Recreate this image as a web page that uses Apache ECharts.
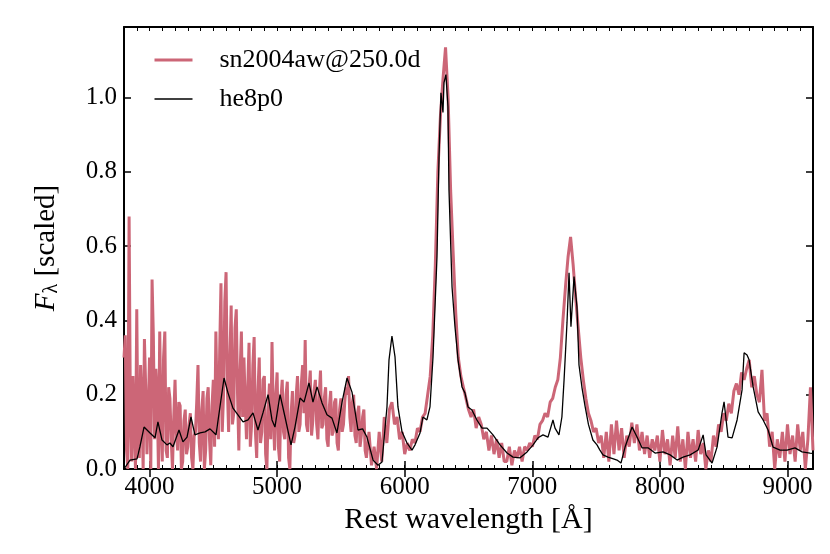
<!DOCTYPE html>
<html>
<head>
<meta charset="utf-8">
<script src="https://cdn.jsdelivr.net/npm/echarts@6/dist/echarts.min.js"></script>
<style>
  html, body { margin: 0; padding: 0; background: #fff; }
  #chart { width: 830px; height: 554px; }
</style>
</head>
<body>
<div id="chart"></div>
<script>
// observed spectrum sn2004aw, blue part sampled every 10 Å (3800-5700)
const blueStart = 3800
const blueStep = 10
const blueFlux = [
  0.30, 0.36, 0.05, 0.00, 0.68, 0.15, 0.02, 0.25, 0.12, 0.00,
  0.43, 0.06, 0.03, 0.28, 0.18, 0.00, 0.35, 0.22, 0.04, 0.15,
  0.30, 0.00, 0.51, 0.36, 0.08, 0.27, 0.20, 0.00, 0.37, 0.12,
  0.02, 0.30, 0.37, 0.05, 0.03, 0.22, 0.19, 0.08, 0.00, 0.14,
  0.24, 0.10, 0.05, 0.18, 0.17, 0.00, 0.02, 0.13, 0.16, 0.04,
  0.06, 0.12, 0.15, 0.03, 0.00, 0.09, 0.10, 0.18, 0.28, 0.07,
  0.02, 0.16, 0.21, 0.00, 0.05, 0.19, 0.22, 0.08, 0.01, 0.17,
  0.24, 0.06, 0.37, 0.18, 0.08, 0.32, 0.50, 0.10, 0.20, 0.45,
  0.53, 0.22, 0.10, 0.30, 0.44, 0.12, 0.15, 0.38, 0.43, 0.20,
  0.05, 0.26, 0.37, 0.14, 0.30, 0.18, 0.08, 0.22, 0.34, 0.06,
  0.12, 0.28, 0.355, 0.10, 0.03, 0.21, 0.30, 0.07, 0.10, 0.24,
  0.25, 0.04, 0.00, 0.16, 0.23, 0.08, 0.342, 0.15, 0.05, 0.20,
  0.26, 0.06, 0.02, 0.19, 0.24, 0.10, 0.08, 0.20, 0.235, 0.03,
  0.00, 0.15, 0.21, 0.07, 0.09, 0.20, 0.25, 0.10, 0.12, 0.23,
  0.28, 0.15, 0.347, 0.12, 0.10, 0.22, 0.265, 0.09, 0.13, 0.21,
  0.24, 0.12, 0.08, 0.20, 0.265, 0.11, 0.12, 0.19, 0.22, 0.08,
  0.06, 0.17, 0.21, 0.09, 0.10, 0.18, 0.19, 0.07, 0.05, 0.16,
  0.19, 0.10, 0.12, 0.18, 0.22, 0.20, 0.25, 0.14, 0.10, 0.18,
  0.20, 0.09, 0.07, 0.15, 0.17, 0.06, 0.09, 0.14, 0.16, 0.05,
  0.03
]
// red part sampled every 20 Å (5720-9200)
const redStart = 5720
const redStep = 20
const redFlux = [
  0.10, 0.01, 0.06, 0.00,
  0.10, 0.02, 0.14, 0.07, 0.16, 0.18, 0.12, 0.14, 0.08, 0.10,
  0.04, 0.07, 0.05, 0.08, 0.07, 0.11, 0.10, 0.14, 0.15, 0.20,
  0.25, 0.36, 0.55, 0.80, 0.95, 1.05, 1.135, 1.00, 0.75, 0.58,
  0.42, 0.30, 0.25, 0.22, 0.19, 0.16, 0.14, 0.16, 0.11, 0.14,
  0.12, 0.08, 0.10, 0.05, 0.09, 0.04, 0.08, 0.03, 0.07, 0.02,
  0.02, 0.06, 0.01, 0.05, 0.03, 0.06, 0.02, 0.06, 0.05, 0.07,
  0.06, 0.09, 0.08, 0.12, 0.13, 0.15, 0.14, 0.18, 0.19, 0.22,
  0.24, 0.30, 0.40, 0.49, 0.57, 0.625, 0.55, 0.46, 0.38, 0.30,
  0.24, 0.19, 0.15, 0.13, 0.10, 0.11, 0.07, 0.09, 0.03, 0.10,
  0.02, 0.12, 0.04, 0.13, 0.05, 0.11, 0.03, 0.09, 0.06, 0.125,
  0.07, 0.12, 0.05, 0.10, 0.04, 0.09, 0.03, 0.08, 0.05, 0.09,
  0.02, 0.105, 0.04, 0.08, 0.01, 0.09, 0.03, 0.115, 0.02, 0.08,
  0.00, 0.10, 0.03, 0.08, 0.02, 0.105, 0.04, 0.07, 0.00, 0.05,
  0.02, 0.09, 0.06, 0.12, 0.10, 0.15, 0.13, 0.176, 0.15, 0.21,
  0.23, 0.20, 0.26, 0.24, 0.27, 0.294, 0.22, 0.25, 0.20, 0.18,
  0.267, 0.13, 0.15, 0.06, 0.10, 0.00, 0.08, 0.03, 0.10, 0.02,
  0.12, 0.04, 0.09, 0.02, 0.12, 0.05, 0.10, 0.00, 0.08, 0.22,
  0.05
]

// model spectrum he8p0
const heWave = [
  3800, 3808, 3847, 3902, 3925, 3957, 4004, 4043, 4066, 4098,
  4137, 4160, 4184, 4231, 4262, 4294, 4325, 4356, 4396, 4435,
  4474, 4521, 4552, 4584, 4615, 4654, 4693, 4733, 4772, 4811,
  4850, 4889, 4929, 4960, 4983, 5023, 5062, 5109, 5140, 5180,
  5211, 5250, 5281, 5313, 5352, 5391, 5430, 5469, 5509, 5548,
  5587, 5634, 5670, 5704, 5752, 5791, 5822, 5861, 5877, 5900,
  5924, 5947, 5979, 6018, 6057, 6081, 6120, 6143, 6174, 6198,
  6222, 6253, 6269, 6284, 6300, 6308, 6323, 6339, 6347, 6371,
  6394, 6418, 6449, 6472, 6496, 6527, 6566, 6606, 6645, 6692,
  6747, 6802, 6849, 6904, 6959, 7006, 7045, 7084, 7123, 7162,
  7178, 7209, 7232, 7249, 7272, 7288, 7303, 7327, 7350, 7366,
  7389, 7413, 7440, 7475, 7507, 7530, 7554, 7593, 7630, 7664,
  7695, 7727, 7782, 7821, 7860, 7907, 7962, 8025, 8080, 8135,
  8182, 8237, 8300, 8339, 8362, 8409, 8448, 8487, 8503, 8534,
  8566, 8605, 8644, 8660, 8683, 8699, 8731, 8770, 8809, 8848,
  8887, 8942, 8997, 9059, 9114, 9176, 9200
]
const heFlux = [
  0.0, 0.005, 0.024, 0.027, 0.06, 0.113, 0.097, 0.084, 0.127, 0.078,
  0.065, 0.07, 0.06, 0.105, 0.073, 0.086, 0.14, 0.092, 0.097, 0.10,
  0.108, 0.092, 0.167, 0.245, 0.205, 0.164, 0.146, 0.127, 0.132, 0.151,
  0.105, 0.151, 0.20, 0.132, 0.113, 0.20, 0.14, 0.065, 0.113, 0.191,
  0.18, 0.232, 0.18, 0.221, 0.178, 0.146, 0.137, 0.097, 0.18, 0.245,
  0.207, 0.105, 0.108, 0.086, 0.024, 0.01, 0.019, 0.167, 0.294, 0.358,
  0.302, 0.167, 0.10, 0.07, 0.051, 0.065, 0.097, 0.14, 0.132, 0.167,
  0.302, 0.571, 0.841, 1.013, 0.96, 1.04, 1.062, 0.976, 0.752, 0.49,
  0.383, 0.294, 0.221, 0.205, 0.167, 0.159, 0.132, 0.11, 0.11, 0.092,
  0.065, 0.043, 0.032, 0.03, 0.046, 0.065, 0.084, 0.092, 0.086, 0.132,
  0.11, 0.092, 0.14, 0.24, 0.394, 0.528, 0.383, 0.518, 0.437, 0.28,
  0.22, 0.17, 0.12, 0.078, 0.065, 0.051, 0.038, 0.032, 0.028, 0.024,
  0.016, 0.059, 0.113, 0.086, 0.057, 0.057, 0.043, 0.046, 0.038, 0.024,
  0.032, 0.038, 0.051, 0.092, 0.038, 0.016, 0.059, 0.151, 0.181, 0.086,
  0.084, 0.132, 0.213, 0.313, 0.307, 0.294, 0.221, 0.154, 0.132, 0.105,
  0.059, 0.051, 0.051, 0.057, 0.046, 0.043, 0.042
]

const xMajor = [4000, 5000, 6000, 7000, 8000, 9000]
const serif = 'Liberation Serif'
const redColor = '#cc6677'

const mychart = echarts.init(document.getElementById('chart'))

//x轴 (刻度朝内, 上下两侧)
const xBase = { type: 'value', min: 3800, max: 9200, splitLine: { show: false } }
const spine = { show: true, onZero: false, lineStyle: { color: '#000', width: 2 } }

const redData = blueFlux.map((v, i) => [blueStart + i * blueStep, v])
  .concat(redFlux.map((v, i) => [redStart + i * redStep, v]))

const option = {
  animation: false,
  grid: { left: 124, right: 17, top: 27, bottom: 85 },
  legend: {
    left: 148, top: 42, orient: 'vertical',
    itemWidth: 38, itemHeight: 14, itemGap: 13,
    itemStyle: { opacity: 0 },
    textStyle: { fontFamily: serif, fontSize: 26, color: '#000', padding: [0, 0, 0, 22] },
    data: [
      { name: 'sn2004aw@250.0d', lineStyle: { color: redColor, width: 3 } },
      { name: 'he8p0', lineStyle: { color: '#000', width: 1.3 } }
    ]
  },
  xAxis: [
    // minor ticks, bottom
    Object.assign({}, xBase, {
      position: 'bottom', interval: 100, axisLine: spine,
      axisTick: { inside: true, length: 4, lineStyle: { color: '#000', width: 1 } },
      axisLabel: { show: false }
    }),
    // major ticks + labels, bottom
    Object.assign({}, xBase, {
      position: 'bottom', interval: 200, axisLine: { show: false },
      axisTick: { inside: true, length: 8, customValues: xMajor, lineStyle: { color: '#000', width: 1.5 } },
      axisLabel: {
        customValues: xMajor, margin: 6, fontFamily: serif, fontSize: 25, color: '#000',
        formatter: v => String(v)
      },
      name: 'Rest wavelength [Å]', nameLocation: 'middle', nameGap: 36,
      nameTextStyle: { fontFamily: serif, fontSize: 30, color: '#000' }
    }),
    // top side
    Object.assign({}, xBase, {
      position: 'top', interval: 100, axisLine: spine,
      axisTick: { inside: true, length: 4, lineStyle: { color: '#000', width: 1 } },
      axisLabel: { show: false }
    }),
    Object.assign({}, xBase, {
      position: 'top', interval: 200, axisLine: { show: false },
      axisTick: { inside: true, length: 8, customValues: xMajor, lineStyle: { color: '#000', width: 1.5 } },
      axisLabel: { show: false }
    })
  ],
  yAxis: [
    {
      type: 'value', min: 0, max: 1.19, interval: 0.2, position: 'left',
      axisLine: spine, splitLine: { show: false },
      axisTick: { inside: true, length: 7, lineStyle: { color: '#000', width: 1.5 } },
      axisLabel: {
        margin: 7, fontFamily: serif, fontSize: 25, color: '#000', showMaxLabel: false,
        formatter: v => v.toFixed(1)
      },
      name: '{it|F}{sub|λ}{n| [scaled]}', nameLocation: 'middle', nameGap: 62,
      nameTextStyle: {
        fontFamily: serif, fontSize: 29, color: '#000',
        rich: {
          it: { fontFamily: serif, fontSize: 29, fontStyle: 'italic', color: '#000' },
          sub: { fontFamily: serif, fontSize: 20, color: '#000', verticalAlign: 'bottom', padding: [12, 0, 0, 0] },
          n: { fontFamily: serif, fontSize: 29, color: '#000' }
        }
      }
    },
    {
      type: 'value', min: 0, max: 1.19, interval: 0.2, position: 'right',
      axisLine: spine, splitLine: { show: false },
      axisTick: { inside: true, length: 7, lineStyle: { color: '#000', width: 1.5 } },
      axisLabel: { show: false }
    }
  ],
  series: [
    {
      name: 'sn2004aw@250.0d', type: 'line', xAxisIndex: 0, yAxisIndex: 0,
      symbol: 'none', z: 2,
      lineStyle: { color: redColor, width: 3 }, itemStyle: { color: redColor },
      data: redData
    },
    {
      name: 'he8p0', type: 'line', xAxisIndex: 0, yAxisIndex: 0,
      symbol: 'none', z: 3,
      lineStyle: { color: '#000', width: 1.3 }, itemStyle: { color: '#000' },
      data: heWave.map((w, i) => [w, heFlux[i]])
    }
  ]
}
mychart.setOption(option)
</script>
</body>
</html>
